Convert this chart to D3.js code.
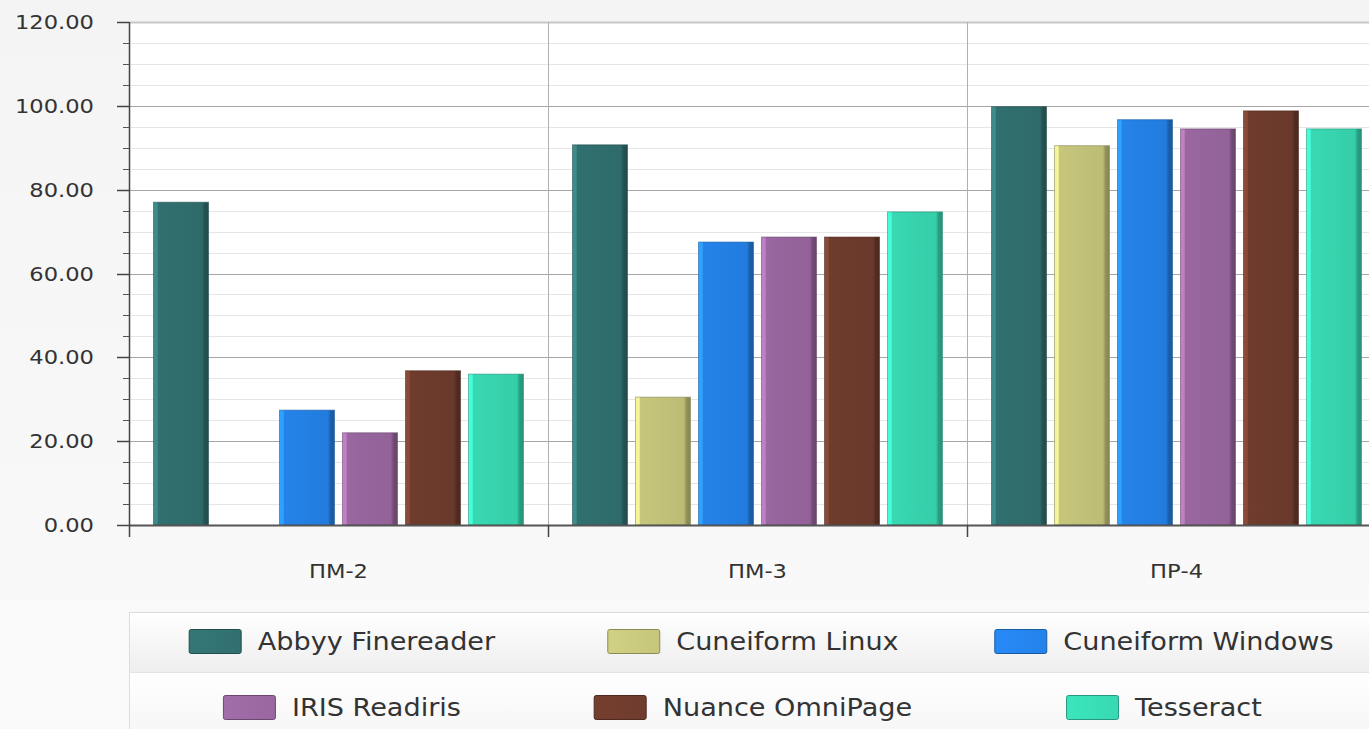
<!DOCTYPE html>
<html>
<head>
<meta charset="utf-8">
<script src="https://cdn.jsdelivr.net/npm/d3@7"></script>
<style>
  html, body { margin: 0; padding: 0; background: #f6f6f6; overflow: hidden; }
  svg { display: block; font-family: "DejaVu Sans", Verdana, sans-serif; }
</style>
</head>
<body>
<svg id="chart" width="1369" height="729"></svg>
<script>
// OCR accuracy per test set and recognition engine
const categories = ["ПМ-2", "ПМ-3", "ПР-4"];
const engines = ["Abbyy Finereader", "Cuneiform Linux", "Cuneiform Windows", "IRIS Readiris", "Nuance OmniPage", "Tesseract"];
const abbyy     = [77.0, 90.7, 99.8];
const cufLinux  = [0.0, 30.5, 90.5];
const cufWin    = [27.4, 67.5, 96.7];
const iris      = [22.0, 68.7, 94.5];
const nuance    = [36.8, 68.7, 98.8];
const tesseract = [36.0, 74.7, 94.5];
const seriesValues = [abbyy, cufLinux, cufWin, iris, nuance, tesseract];
const colors = ["#317070", "#c6c67c", "#2483ea", "#9a67a0", "#6f3c2d", "#38d9b2"];
const yTicks = [0, 20, 40, 60, 80, 100, 120];

const svg = d3.select("#chart");
const W = 1369, H = 729;
const margin = { left: 129, top: 22 };
const bandW = 419;
const plotBottom = 525;
const plotRight = margin.left + bandW * categories.length;
const SX = 1.13; // horizontal text stretch

const defs = svg.append("defs");

// page background
const bgGrad = defs.append("linearGradient").attr("id", "bg").attr("x1", 0).attr("y1", 0).attr("x2", 0).attr("y2", 1);
bgGrad.append("stop").attr("offset", 0).attr("stop-color", "#f4f4f4");
bgGrad.append("stop").attr("offset", 1).attr("stop-color", "#fafafa");
svg.append("rect").attr("width", W).attr("height", H).attr("fill", "url(#bg)");

const y = d3.scaleLinear().domain([0, 120]).range([plotBottom, margin.top]);
const x0 = d3.scaleBand().domain(categories).range([margin.left, plotRight]);
const x1 = d3.scaleBand().domain(engines).range([0, x0.bandwidth()])
  .paddingInner(8 / 63).paddingOuter(0.389);

// plot area
svg.append("rect").attr("x", margin.left).attr("y", margin.top)
  .attr("width", plotRight - margin.left).attr("height", plotBottom - margin.top)
  .attr("fill", "#ffffff");

// minor gridlines every 5
const minor = d3.range(5, 120, 5).filter(v => v % 20 !== 0);
svg.append("g").selectAll("line").data(minor).join("line")
  .attr("x1", margin.left).attr("x2", plotRight)
  .attr("y1", d => Math.round(y(d)) + 0.5).attr("y2", d => Math.round(y(d)) + 0.5)
  .attr("stroke", "#e6e6e6").attr("stroke-width", 1);
// major gridlines
svg.append("g").selectAll("line").data(yTicks.filter(v => v > 0)).join("line")
  .attr("x1", margin.left).attr("x2", plotRight)
  .attr("y1", d => Math.round(y(d)) + 0.5).attr("y2", d => Math.round(y(d)) + 0.5)
  .attr("stroke", d => d === 120 ? "#c8c8c8" : "#a6a6a6").attr("stroke-width", d => d === 120 ? 2 : 1);

// vertical separators between categories
svg.append("g").selectAll("line").data(categories.slice(1)).join("line")
  .attr("x1", d => Math.round(x0(d)) + 0.5).attr("x2", d => Math.round(x0(d)) + 0.5)
  .attr("y1", margin.top).attr("y2", plotBottom)
  .attr("stroke", "#b0b0b0");

// bar gradients
colors.forEach((c, i) => {
  const base = d3.color(c);
  const g = defs.append("linearGradient").attr("id", "bar" + i)
    .attr("x1", 0).attr("y1", 0).attr("x2", 1).attr("y2", 0);
  g.append("stop").attr("offset", 0).attr("stop-color", base.brighter(0.6));
  g.append("stop").attr("offset", 0.07).attr("stop-color", base.brighter(0.6));
  g.append("stop").attr("offset", 0.08).attr("stop-color", base);
  g.append("stop").attr("offset", 0.88).attr("stop-color", base.darker(0.15));
  g.append("stop").attr("offset", 0.93).attr("stop-color", base.darker(0.9));
  g.append("stop").attr("offset", 1).attr("stop-color", base.darker(1.1));
  const s = defs.append("linearGradient").attr("id", "sw" + i)
    .attr("x1", 0).attr("y1", 0).attr("x2", 1).attr("y2", 0);
  s.append("stop").attr("offset", 0).attr("stop-color", base.brighter(0.15));
  s.append("stop").attr("offset", 1).attr("stop-color", base);
});

// bars
const groups = svg.append("g").selectAll("g").data(categories).join("g")
  .attr("transform", d => `translate(${x0(d)},0)`);
groups.selectAll("rect")
  .data((cat, ci) => engines.map((e, si) => ({ e, si, v: seriesValues[si][ci] })).filter(d => d.v > 0))
  .join("rect")
  .attr("x", d => x1(d.e))
  .attr("width", x1.bandwidth())
  .attr("y", d => y(d.v))
  .attr("height", d => plotBottom - y(d.v))
  .attr("fill", d => `url(#bar${d.si})`)
  .attr("stroke", d => d3.color(colors[d.si]).darker(1.2))
  .attr("stroke-opacity", 0.55)
  .attr("stroke-width", 1);

// x axis baseline
svg.append("line").attr("x1", margin.left).attr("x2", plotRight)
  .attr("y1", plotBottom + 0.5).attr("y2", plotBottom + 0.5)
  .attr("stroke", "#555").attr("stroke-width", 2);
// category tick marks
svg.append("g").selectAll("line").data(categories.slice(1)).join("line")
  .attr("x1", d => Math.round(x0(d)) + 0.5).attr("x2", d => Math.round(x0(d)) + 0.5)
  .attr("y1", plotBottom).attr("y2", plotBottom + 12)
  .attr("stroke", "#444").attr("stroke-width", 1.5);

// y axis
svg.append("line").attr("x1", margin.left + 0.5).attr("x2", margin.left + 0.5)
  .attr("y1", margin.top).attr("y2", plotBottom + 12)
  .attr("stroke", "#444").attr("stroke-width", 1.5);
svg.append("g").selectAll("line").data(yTicks).join("line")
  .attr("x1", margin.left - 12).attr("x2", margin.left)
  .attr("y1", d => Math.round(y(d)) + 0.5).attr("y2", d => Math.round(y(d)) + 0.5)
  .attr("stroke", "#444").attr("stroke-width", 1.5);
svg.append("g").selectAll("line").data(minor).join("line")
  .attr("x1", margin.left - 6).attr("x2", margin.left)
  .attr("y1", d => Math.round(y(d)) + 0.5).attr("y2", d => Math.round(y(d)) + 0.5)
  .attr("stroke", "#555").attr("stroke-width", 1);

// y tick labels
svg.append("g").selectAll("text").data(yTicks).join("text")
  .attr("transform", d => `translate(94,${y(d) + 7}) scale(${SX},1)`)
  .attr("text-anchor", "end")
  .attr("font-size", 20)
  .attr("fill", "#333")
  .text(d => d3.format(".2f")(d));

// category labels
svg.append("g").selectAll("text").data(categories).join("text")
  .attr("transform", d => `translate(${x0(d) + x0.bandwidth() / 2},578) scale(${SX},1)`)
  .attr("text-anchor", "middle")
  .attr("font-size", 20)
  .attr("fill", "#333")
  .text(d => d);

// legend
const legTop = 612, rowSplit = 672;
const r1 = defs.append("linearGradient").attr("id", "leg1").attr("x1", 0).attr("y1", 0).attr("x2", 0).attr("y2", 1);
r1.append("stop").attr("offset", 0).attr("stop-color", "#ffffff");
r1.append("stop").attr("offset", 1).attr("stop-color", "#eeeeee");
const r2 = defs.append("linearGradient").attr("id", "leg2").attr("x1", 0).attr("y1", 0).attr("x2", 0).attr("y2", 1);
r2.append("stop").attr("offset", 0).attr("stop-color", "#ffffff");
r2.append("stop").attr("offset", 1).attr("stop-color", "#f7f7f7");

svg.append("rect").attr("x", margin.left + 0.5).attr("y", legTop + 0.5)
  .attr("width", W).attr("height", H).attr("fill", "#fff").attr("stroke", "#dcdcdc");
svg.append("rect").attr("x", margin.left + 1).attr("y", legTop + 1)
  .attr("width", W).attr("height", rowSplit - legTop - 1).attr("fill", "url(#leg1)");
svg.append("rect").attr("x", margin.left + 1).attr("y", rowSplit)
  .attr("width", W).attr("height", H - rowSplit).attr("fill", "url(#leg2)");
svg.append("line").attr("x1", margin.left + 1).attr("x2", W)
  .attr("y1", rowSplit + 0.5).attr("y2", rowSplit + 0.5).attr("stroke", "#e4e4e4");

const legCol = d3.scaleBand().domain([0, 1, 2]).range([136.5, 1369.5]);
const legRowY = [641, 707];
const swW = 52, swH = 24, gap = 17;
const items = svg.append("g").selectAll("g").data(engines).join("g");
items.each(function (name, i) {
  const g = d3.select(this);
  const col = i % 3, row = Math.floor(i / 3);
  const cy = legRowY[row];
  const t = g.append("text")
    .attr("font-size", 24).attr("fill", "#333").text(name);
  const tw = t.node().getComputedTextLength() * SX;
  const total = swW + gap + tw;
  const left = legCol(col) + legCol.bandwidth() / 2 - total / 2;
  g.append("rect").attr("x", left + 0.5).attr("y", cy - swH / 2 + 0.5)
    .attr("width", swW).attr("height", swH).attr("rx", 2)
    .attr("fill", `url(#sw${i})`)
    .attr("stroke", d3.color(colors[i]).darker(1)).attr("stroke-width", 1);
  t.attr("transform", `translate(${left + swW + gap},${cy + 8.5}) scale(${SX},1)`);
});
</script>
</body>
</html>
